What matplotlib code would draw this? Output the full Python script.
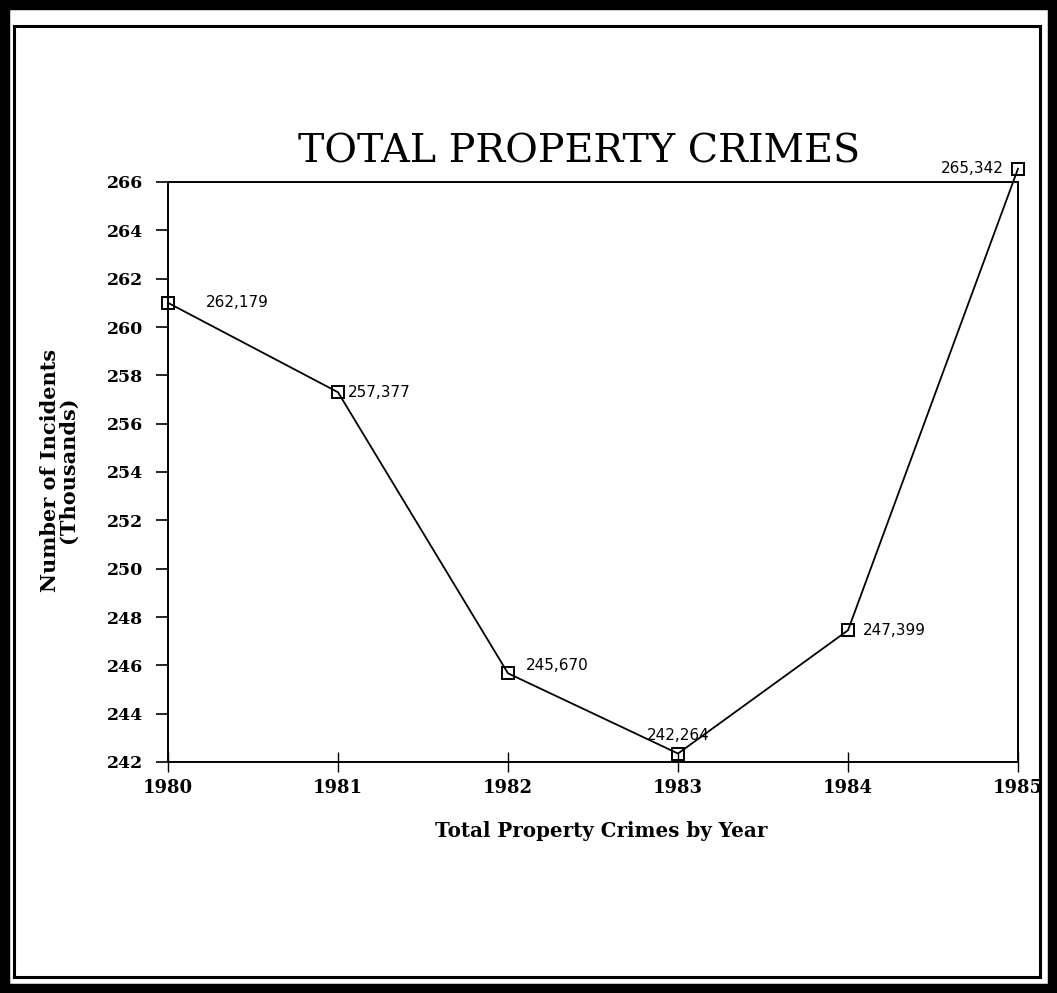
import matplotlib
matplotlib.use("Agg")
import matplotlib.pyplot as plt
from matplotlib.patches import Rectangle

years = [1980, 1981, 1982, 1983, 1984, 1985]
values = [261.0, 257.3, 245.67, 242.35, 247.45, 266.55]
value_labels = ["262,179", "257,377", "245,670", "242,264", "247,399", "265,342"]
yticks = list(range(242, 267, 2))
title = "TOTAL PROPERTY CRIMES"
xlabel = "Total Property Crimes by Year"
ylabel = "Number of Incidents\n(Thousands)"

W, H = 1057, 993
fig = plt.figure(figsize=(W / 100, H / 100), dpi=100)
fig.patch.set_facecolor("white")

# scanned double frame
fig.patches.append(Rectangle((0, 0), 1, 1, transform=fig.transFigure,
                             fill=False, edgecolor="black", linewidth=14, zorder=0))
fig.patches.append(Rectangle((14 / W, 16 / H), (1040 - 14) / W, (967 - 16) / H,
                             transform=fig.transFigure, fill=False,
                             edgecolor="black", linewidth=2.2, zorder=0))

ax = fig.add_axes([168 / W, 1 - 762 / H, (1018 - 168) / W, (762 - 182) / H])
ax.plot(years, values, color="black", linewidth=1.3, marker="s", markersize=8,
        markerfacecolor="none", markeredgecolor="black", markeredgewidth=1.4,
        clip_on=False, zorder=3)

ax.set_xlim(1980, 1985)
ax.set_ylim(242, 266)
ax.set_yticks(yticks)
ax.set_xticks(years)

ytickfont = dict(family="DejaVu Serif", weight="bold", size=12.5)
xtickfont = dict(family="DejaVu Serif", weight="bold", size=13)
ax.set_yticklabels([str(t) for t in yticks], fontdict=ytickfont)
ax.set_xticklabels([str(y) for y in years], fontdict=xtickfont)
ax.tick_params(axis="y", direction="out", length=9, width=1.2, pad=9)
ax.tick_params(axis="x", direction="inout", length=14, width=1.0, pad=5)
for s in ax.spines.values():
    s.set_linewidth(1.4)

# data labels
offsets = [(38, 0, "left", "center"), (10, 0, "left", "center"),
           (18, 8, "left", "center"), (0, 11, "center", "bottom"),
           (15, 0, "left", "center"), (-14, 0, "right", "center")]
for x, y, lab, (dx, dy, ha, va) in zip(years, values, value_labels, offsets):
    ax.annotate(lab, (x, y), xytext=(dx * 0.72, dy * 0.72), textcoords="offset points",
                ha=ha, va=va, fontsize=11,
                family=["Liberation Sans Narrow", "DejaVu Sans"], annotation_clip=False)

fig.text(579 / W, 1 - 152 / H, title, ha="center", va="center",
         family="DejaVu Serif", fontsize=28.5)
fig.text(601 / W, 1 - 831 / H, xlabel, ha="center", va="center",
         family="DejaVu Serif", weight="bold", fontsize=14.3)
fig.text(59 / W, 1 - 470 / H, ylabel, ha="center", va="center", rotation=90,
         family="DejaVu Serif", weight="bold", fontsize=15, linespacing=0.9)

fig.savefig("out.png", dpi=100)
